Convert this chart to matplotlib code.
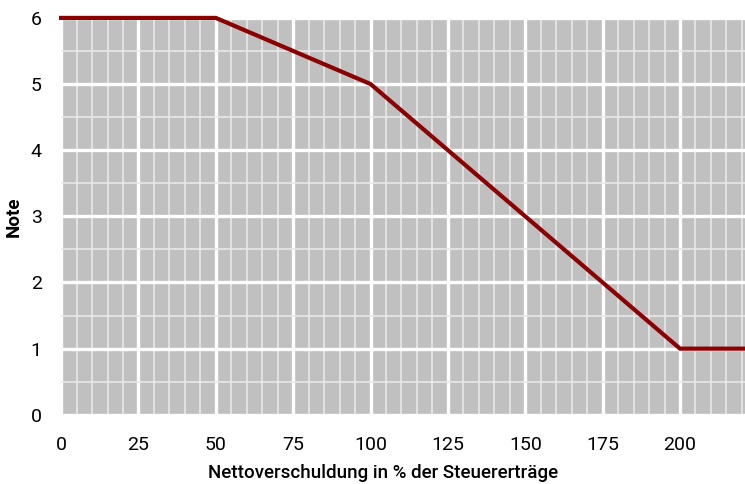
import matplotlib
matplotlib.use("Agg")
import matplotlib.pyplot as plt
from matplotlib.ticker import MultipleLocator

plt.rcParams['font.family'] = ['Roboto', 'DejaVu Sans']

# Data
verschuldung = [0, 50, 100, 200, 221]
note = [6, 6, 5, 1, 1]
x_ticks = [0, 25, 50, 75, 100, 125, 150, 175, 200]
y_ticks = [0, 1, 2, 3, 4, 5, 6]

fig = plt.figure(figsize=(7.45, 4.84), dpi=100)
ax = fig.add_axes([0.082, 0.143, 0.918, 0.820])
ax.set_facecolor('#c0c0c0')

ax.plot(verschuldung, note, color='#8b0000', linewidth=3, clip_on=False,
        solid_joinstyle='miter', zorder=5)

ax.set_xlim(0, 221)
ax.set_ylim(0, 6)
ax.set_xticks(x_ticks)
ax.set_yticks(y_ticks)
ax.xaxis.set_minor_locator(MultipleLocator(5))
ax.yaxis.set_minor_locator(MultipleLocator(0.5))
ax.grid(which='major', color='white', linewidth=2.4)
ax.grid(which='minor', color='#e8e8e8', linewidth=1.2)
ax.set_axisbelow(True)

for s in ax.spines.values():
    s.set_visible(False)
ax.tick_params(which='both', length=0, labelsize=14)
ax.tick_params(axis='x', pad=15)
ax.tick_params(axis='y', pad=14)

ax.set_xlabel('Nettoverschuldung in % der Steuererträge', fontsize=13.5,
              fontweight='medium')
ax.set_ylabel('Note', fontsize=13.5, fontweight='bold')
ax.xaxis.set_label_coords(0.471, -0.125)
ax.yaxis.set_label_coords(-0.0556, 0.5)

fig.savefig('out.png', dpi=100)
